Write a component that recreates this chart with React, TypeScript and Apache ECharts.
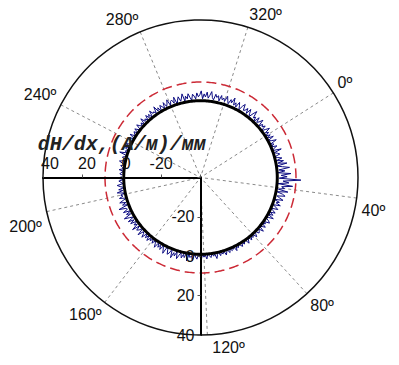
import React, { useEffect, useRef } from 'react';
import * as echarts from 'echarts';

const angleTicks = [0, 40, 80, 120, 160, 200, 240, 280, 320];
const radialTicks = [-40, -20, 0, 20, 40];
const axisName = 'dH/dx,(A/м)/мм';
const baseCircleLevel = -1;
const limitCircleLevel = 8.5;

// dH/dx sampled every 1 degree (0..359)
const dHdxValues = [
  -1, 1.5, -0.5, 2.5, -1, 0.5, 3, -0.5, 1, -1, 2, 0, -1, 3.5, -0.5, 1, 2, -1, 0.5, 2.5,
  -0.5, 3, 0, 4.5, -1, 2, 5.5, 0, 3, -0.5, 6, 1, 4, 0, 11, 2, 5, -0.5, 7, 1.5,
  3, 0, 5, -0.5, 2.5, 4, 0, 1.5, 3.5, -1, 2, 0.5, 3, -0.5, 1, 2.5, -1, 0.5, 2, -0.5,
  1.5, -1, 2.5, 0, -1, 1, 2, -0.5, 0.5, -1, 1.5, 0, -1, 2, -0.5, 0.5, 1, -1, 0, 1.5,
  -1, 0.5, -0.5, 1, -1, 0, 1.5, -1, -0.5, 0.5, -1, 1, 0, -1, 0.5, -0.5, 1.5, -1, 0, 0.5,
  -1, 1, -0.5, 0, 1.5, -1, 0.5, -0.5, 1, -1, 0, 2, -0.5, 0.5, -1, 1, 0, -1, 1.5, -0.5,
  0.5, -1, 2, 0, -1, 1.5, 0.5, -1, 2.5, 0, 1, -0.5, 3, -1, 1.5, 0, 2, -0.5, 1, 3,
  -0.5, 2, 0.5, 3.5, -1, 1.5, 2.5, 0, -1, 3, 1, -0.5, 2, 0, 1.5, -1, 2.5, 0.5, -0.5, 1.5,
  -1, 1, 0, 2, -0.5, 1.5, -1, 2.5, 0.5, 0, 3, -1, 1, 2, -0.5, 3.5, 0, 1.5, -1, 2.5,
  0, 3, -0.5, 1.5, 4, 0, 2, -1, 3, 0.5, 1, 4.5, -0.5, 2, 0, 3, 1, -1, 2.5, 0.5,
  1.5, -0.5, 3, 0, 2, -1, 1, 2.5, -0.5, 0.5, 1.5, -1, 2, 0, -1, 1, 0.5, -1, 1.5, -0.5,
  0, 1, -1, 0.5, 2, -0.5, -1, 1, 0, -1, 3, -0.5, 0.5, -1, 1, 0, -1, 1.5, -0.5, 0,
  -1, 1, 0.5, -1, 2, -0.5, 0, 1, -1, 1.5, 0, -1, 2, 0.5, -0.5, 1, -1, 2.5, 0, 1,
  -0.5, 2, 0, 1.5, -1, 2.5, 0.5, 1, -0.5, 3, 0, 1.5, -1, 2, 1, -0.5, 2.5, 0, 1, 3,
  -0.5, 1.5, 2, 0, 3, -1, 1, 2.5, 0, 1.5, 3.5, -0.5, 2, 0.5, 3, 1, -0.5, 2.5, 1.5, 0,
  3, 1, 2, 4, 0, 2.5, 1, 3.5, 0.5, 2, 4, 1, 0, 3, 1.5, 2.5, 0, 3, 1, 2,
  0.5, 3.5, 1.5, 0, 2.5, 1, 4, 0.5, 2, 0, 3, 1.5, -0.5, 2, 3.5, 0.5, 1, 2.5, 0, 3,
  1, -0.5, 2, 4, 0.5, 1.5, -1, 2.5, 0, 1, 3, -0.5, 1.5, 0.5, 2, -1, 1, 3, 0, 1.5,
];

const CX = 200.5;
const CY = 177.5;
const R = 157.5;

export default function App() {
  const ref = useRef<HTMLDivElement>(null);
  useEffect(() => {
    if (!ref.current) return;
    const chart = echarts.init(ref.current, null, { renderer: 'svg' });
    const step = 360 / dHdxValues.length;
    const signal = dHdxValues.map((v, i) => [v, i * step]);
    signal.push([dHdxValues[0], 360]);
    const baseCircle = dHdxValues.map((_, i) => [baseCircleLevel, i * step]);
    baseCircle.push([baseCircleLevel, 360]);
    const limitCircle = dHdxValues.map((_, i) => [limitCircleLevel, i * step]);
    limitCircle.push([limitCircleLevel, 360]);

    const tickFont = { fontFamily: 'Liberation Sans, Arial, sans-serif', fontSize: 16, color: '#111' };
    const radialFmt = (v: number) => (v === radialTicks[0] ? '' : String(v));
    const richBase = { fontFamily: 'Liberation Sans, Arial, sans-serif', fontSize: 16, color: '#111' };

    chart.setOption({
      animation: false,
      backgroundColor: '#fff',
      polar: { center: [CX, CY], radius: R },
      angleAxis: {
        type: 'value',
        min: 0,
        max: 360,
        interval: angleTicks[1] - angleTicks[0],
        startAngle: 32.5,
        clockwise: true,
        axisLine: { lineStyle: { color: '#111', width: 1.5 } },
        axisTick: { show: false },
        axisLabel: {
          ...tickFont,
          margin: 5,
          formatter: (v: number) => {
            if (!angleTicks.includes(v)) return '';
            if (v === 40) return `{down12|${v}º}`;
            if (v === 200) return `{down14|${v}º}`;
            if (v === 120) return `{right20|${v}º}`;
            if (v === 0) return `{left4|${v}º}`;
            return `${v}º`;
          },
          rich: {
            down12: { ...richBase, padding: [24, 0, 0, 0] },
            down14: { ...richBase, padding: [28, 0, 0, 0] },
            right20: { ...richBase, padding: [0, 0, 0, 42] },
            left4: { ...richBase, padding: [0, 8, 0, 0] },
          },
        },
        splitLine: { show: true, lineStyle: { color: '#8a8a8a', width: 1, type: [3, 3] } },
      },
      radiusAxis: {
        type: 'value',
        min: -40,
        max: 40,
        show: false,
        splitLine: { show: false },
      },
      grid: [
        { left: CX - R, top: CY, width: R, height: 20 },
        { left: CX, top: CY, width: 20, height: R },
      ],
      xAxis: [
        {
          gridIndex: 0,
          type: 'value',
          position: 'top',
          inverse: true,
          min: radialTicks[0],
          max: radialTicks[radialTicks.length - 1],
          interval: 20,
          z: 10,
          name: axisName,
          nameLocation: 'middle',
          nameGap: 22,
          nameTextStyle: {
            fontFamily: 'Liberation Mono, Courier New, monospace',
            fontStyle: 'italic',
            fontWeight: 'bold',
            fontSize: 20,
            color: '#222',
          },
          axisLine: { onZero: false, lineStyle: { color: '#000', width: 2 } },
          axisTick: { show: true, length: 3, lineStyle: { color: '#555' } },
          axisLabel: {
            ...tickFont,
            margin: 6,
            formatter: (v: number) => {
              if (v === radialTicks[0]) return '';
              if (v === radialTicks[radialTicks.length - 1]) return `{e|${v}}`;
              return v >= 0 ? `{s|${v}}` : String(v);
            },
            rich: {
              s: { ...richBase, padding: [0, 0, 0, 9] },
              e: { ...richBase, padding: [0, 0, 0, 14] },
            },
          },
          splitLine: { show: false },
        },
        { gridIndex: 1, show: false, type: 'value', min: 0, max: 1, splitLine: { show: false } },
      ],
      yAxis: [
        { gridIndex: 0, show: false, type: 'value', min: 0, max: 1, splitLine: { show: false } },
        {
          gridIndex: 1,
          type: 'value',
          position: 'left',
          inverse: true,
          min: radialTicks[0],
          max: radialTicks[radialTicks.length - 1],
          interval: 20,
          z: 10,
          axisLine: { onZero: false, lineStyle: { color: '#000', width: 2 } },
          axisTick: { show: true, length: 3, lineStyle: { color: '#555' } },
          axisLabel: { ...tickFont, margin: 6, formatter: radialFmt },
          splitLine: { show: false },
        },
      ],
      series: [
        {
          type: 'line',
          coordinateSystem: 'polar',
          data: signal,
          showSymbol: false,
          symbol: 'none',
          lineStyle: { color: '#0a0a80', width: 1 },
          z: 2,
        },
        {
          type: 'line',
          coordinateSystem: 'polar',
          data: baseCircle,
          symbol: 'none',
          smooth: true,
          lineStyle: { color: '#000', width: 3 },
          z: 3,
        },
        {
          type: 'line',
          coordinateSystem: 'polar',
          data: limitCircle,
          symbol: 'none',
          smooth: true,
          lineStyle: { color: '#cc2a36', width: 1.5, type: [10, 5] },
          z: 3,
        },
      ],
    });
    return () => chart.dispose();
  }, []);
  return (
    <div
      ref={ref}
      style={{ position: 'absolute', left: 0, top: 0, width: 399, height: 365, background: '#fff' }}
    />
  );
}
